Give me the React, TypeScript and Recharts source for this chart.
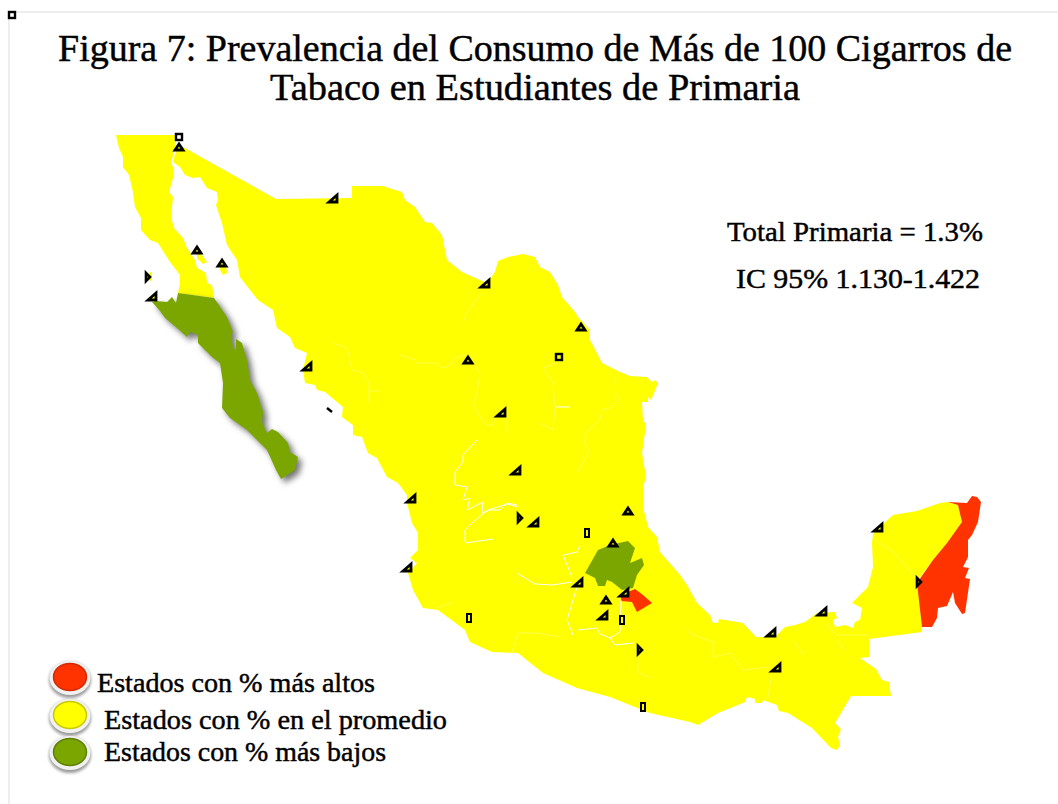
import React from 'react';
import { ScatterChart, Scatter, XAxis, YAxis } from 'recharts';

type Pt = [number, number];

const TITLE_LINES = ['Figura 7: Prevalencia del Consumo de Más de 100 Cigarros de', 'Tabaco en Estudiantes de Primaria'];
const TOTALS = ['Total Primaria = 1.3%', 'IC 95% 1.130-1.422'];
const LEGEND_LABELS = ['Estados con % más altos', 'Estados con % en el promedio', 'Estados con % más bajos'];

const YELLOW = '#ffff00';
const GREEN = '#7ba600';
const RED = '#ff3300';

// outlines are in map units
const bajaNorte: Pt[] = [[116,135],[176,135],[175,148],[171,163],[173,167],[173,178],[169,192],[173,197],[171,217],[174,228],[183,238],[187,248],[195,260],[197,268],[206,273],[207,283],[212,285],[214,298],[178,293],[180,283],[180,275],[170,262],[158,243],[150,240],[141,230],[141,218],[135,207],[133,192],[129,175],[123,167],[123,157],[119,148]];
const bajaSur: Pt[] = [[178,293],[214,298],[227,317],[233,332],[231,333],[233,348],[236,350],[236,339],[242,343],[247,360],[250,380],[257,393],[263,412],[262,422],[267,433],[272,429],[278,432],[288,443],[290,452],[298,457],[295,470],[281,479],[276,470],[267,450],[247,430],[230,418],[222,408],[223,383],[220,363],[212,357],[198,343],[198,335],[190,332],[187,337],[177,328],[165,318],[160,311],[152,302],[157,301],[167,302],[172,297],[176,303]];
const islandA: Pt[] = [[197,253],[202,255],[207,262],[203,264],[197,258]];
const islandB: Pt[] = [[220,266],[226,266],[227,273],[223,275],[220,270]];
const islandC: Pt[] = [[150,272],[152,272],[152,281],[148,280]];
const mainland: Pt[] = [[177,148],[173,162],[180,167],[185,175],[193,178],[200,177],[207,188],[217,192],[218,200],[216,205],[222,223],[227,245],[237,260],[240,277],[250,290],[258,300],[273,310],[277,328],[290,337],[295,348],[307,353],[303,370],[305,383],[315,385],[317,390],[325,392],[343,407],[342,417],[353,425],[353,435],[362,437],[368,453],[377,458],[387,477],[398,483],[407,495],[407,503],[412,523],[418,533],[418,550],[410,558],[417,563],[408,573],[413,590],[423,608],[438,610],[465,630],[470,642],[492,652],[518,653],[543,673],[577,688],[610,697],[650,713],[690,722],[698,725],[718,713],[733,707],[745,702],[747,697],[755,699],[755,703],[762,703],[763,700],[777,705],[779,711],[788,713],[812,728],[831,748],[837,750],[840,745],[838,737],[841,729],[835,723],[851,696],[891,696],[889,682],[882,680],[876,669],[860,658],[869,657],[869,639],[922,632],[918,580],[933,560],[947,543],[962,522],[958,505],[948,502],[940,503],[917,511],[893,515],[880,527],[873,534],[872,543],[873,567],[868,587],[852,603],[862,608],[860,620],[855,622],[853,628],[845,625],[835,627],[833,620],[837,618],[835,612],[817,613],[805,622],[795,625],[785,627],[775,637],[756,637],[743,623],[719,619],[718,623],[713,623],[710,615],[697,603],[687,585],[680,575],[660,552],[657,537],[648,527],[643,507],[643,487],[646,477],[642,453],[646,425],[643,420],[642,402],[648,402],[648,397],[651,400],[658,383],[655,380],[652,382],[647,377],[630,376],[620,372],[602,363],[590,340],[589,329],[578,317],[575,312],[562,297],[558,285],[550,272],[540,267],[535,257],[523,254],[508,257],[498,261],[495,272],[487,283],[473,277],[462,272],[447,260],[442,235],[432,223],[425,222],[415,207],[405,200],[402,192],[392,189],[383,186],[352,186],[352,198],[276,199],[183,147]];
const hidalgo: Pt[] = [[585,573],[598,550],[610,545],[628,541],[635,548],[630,563],[642,558],[644,565],[637,575],[633,588],[622,590],[612,582],[607,580],[605,586],[598,586],[595,578]];
const tlaxcala: Pt[] = [[621,595],[635,589],[643,595],[652,603],[637,612],[632,602],[621,601]];
const quintanaRoo: Pt[] = [[948,502],[967,503],[972,496],[977,497],[981,502],[978,522],[972,535],[968,540],[968,557],[963,567],[969,568],[965,578],[970,579],[965,613],[962,614],[955,603],[953,592],[947,606],[938,608],[937,618],[932,627],[922,627],[917,583],[933,560],[947,543],[962,522],[958,505]];

// borders that still read clearly in the picture
const strongBorders: Pt[][] = [
  [[477,440],[463,455],[463,462],[455,472],[455,485],[467,487],[463,500],[470,498],[467,510],[483,502],[482,513],[490,510],[500,510],[507,503],[517,505]],
  [[517,573],[535,584],[552,585],[572,582]],
  [[563,555],[572,577]],
  [[563,555],[577,552],[580,545]],
  [[465,542],[465,530],[473,522],[488,510],[507,504],[518,507]],
  [[465,543],[493,539]],
  [[577,587],[567,620],[573,635]],
  [[577,630],[597,628],[600,634],[610,638],[620,632],[621,600]],
  [[610,638],[615,645],[633,643]],
  [[555,407],[570,407]],
];
// barely visible ones
const faintBorders: Pt[][] = [
  [[482,293],[467,312],[463,323]],
  [[333,343],[347,348],[352,370],[363,373],[369,383],[369,403]],
  [[369,391],[380,391]],
  [[400,355],[415,360],[417,363],[438,363],[442,368],[447,367],[457,357],[465,355]],
  [[470,360],[480,373],[477,393],[473,403],[480,417],[487,425],[493,425],[497,415]],
  [[507,417],[507,433]],
  [[563,360],[543,368],[553,383],[555,407]],
  [[555,408],[553,430],[540,423]],
  [[615,378],[616,397]],
  [[620,398],[610,408],[602,410],[600,420],[585,433],[585,445],[590,450],[577,473]],
  [[438,608],[453,602]],
  [[633,643],[638,657],[638,672],[650,678]],
  [[560,637],[537,633],[518,633],[512,652]],
  [[685,627],[693,635],[713,642],[713,657],[730,653],[743,670],[770,667]],
  [[795,642],[803,655]],
  [[825,623],[837,635],[867,635]],
  [[837,640],[845,650]],
  [[875,540],[893,552],[917,578]],
  [[772,672],[768,697]],
];

const cornerMarks: Pt[] = [[333,199],[152,297],[307,367],[485,284],[501,413],[516,471],[411,499],[534,523],[407,568],[578,583],[624,593],[603,616],[878,528],[822,612],[771,633],[776,668]];
const apexMarks: Pt[] = [[179,147],[197,250],[222,263],[581,327],[468,360],[606,600],[628,511],[613,543]];
const sideMarks: Pt[] = [[148,277],[520,518],[919,582],[640,650]];
const narrowMarks: Pt[] = [[587,533],[643,707],[622,620],[469,618]];
const boxMarks: Pt[] = [[179,137],[559,357],[12,15]];
const slashMark: Pt[] = [[327,408],[332,412]];

const frameTop: Pt[] = [[9,12],[1058,12]];
const frameLeft: Pt[] = [[9,12],[9,804]];

const legendDiscs: Pt[] = [[70,678],[70,716],[70,753]];
const legendColors = [RED, YELLOW, GREEN];
const legendEdges = ['#d42a00', '#c9c900', '#5f8000'];

const toRows = (pts: Pt[]) => pts.map(([x, y]) => ({ x, y }));
const noDot = () => <g />;

function fillShape(color: string, shadow = false) {
  return (p: any) => (
    <polygon
      points={p.points.map((q: any) => `${q.x},${q.y}`).join(' ')}
      fill={color}
      stroke="none"
      style={shadow ? { filter: 'drop-shadow(4px 4px 3px rgba(0,0,0,0.55))' } : undefined}
    />
  );
}

function region(name: string, pts: Pt[], color: string, shadow = false) {
  return <Scatter key={name} data={toRows(pts)} line={fillShape(color, shadow)} shape={noDot} isAnimationActive={false} />;
}

const corner = (p: any) => <path d={`M${p.cx + 4} ${p.cy - 4}V${p.cy + 3}H${p.cx - 4}Z`} fill={YELLOW} stroke="#000" strokeWidth={2.8} />;
const apex = (p: any) => <path d={`M${p.cx} ${p.cy - 3}L${p.cx + 4} ${p.cy + 3}H${p.cx - 4}Z`} fill={YELLOW} stroke="#000" strokeWidth={2.8} />;
const side = (p: any) => <path d={`M${p.cx - 2} ${p.cy - 4}L${p.cx + 2} ${p.cy}L${p.cx - 2} ${p.cy + 4}Z`} fill={YELLOW} stroke="#000" strokeWidth={2.6} />;
const narrow = (p: any) => <rect x={p.cx - 2} y={p.cy - 4} width={4} height={8} fill={YELLOW} stroke="#000" strokeWidth={2} />;
const box = (p: any) => <rect x={p.cx - 3} y={p.cy - 3} width={6} height={6} fill="none" stroke="#000" strokeWidth={2.4} />;

const disc = (p: any) => (
  <g>
    <ellipse cx={p.cx} cy={p.cy + 2} rx={21} ry={18} fill="#9a9a9a" style={{ filter: 'blur(1.5px)' }} />
    <ellipse cx={p.cx} cy={p.cy} rx={20.5} ry={17} fill="#f1f1f1" />
    <ellipse cx={p.cx} cy={p.cy - 1} rx={16.5} ry={13.5} fill={legendColors[p.index]} stroke={legendEdges[p.index]} strokeWidth={1.5} />
  </g>
);

const serif = '"Liberation Serif", serif';

export default function App() {
  return (
    <div style={{ position: 'fixed', left: 0, top: 0, width: 1058, height: 804, background: '#fff' }}>
      <ScatterChart width={1058} height={804} margin={{ top: 0, right: 0, bottom: 0, left: 0 }}>
        <XAxis type="number" dataKey="x" domain={[0, 1058]} hide />
        <YAxis type="number" dataKey="y" domain={[0, 804]} reversed hide />
        <Scatter data={toRows(frameTop)} line={{ stroke: '#eeeeee', strokeWidth: 2 }} shape={noDot} isAnimationActive={false} />
        <Scatter data={toRows(frameLeft)} line={{ stroke: '#eeeeee', strokeWidth: 2 }} shape={noDot} isAnimationActive={false} />
        {region('bajaNorte', bajaNorte, YELLOW)}
        {region('mainland', mainland, YELLOW)}
        {region('islandA', islandA, YELLOW)}
        {region('islandB', islandB, YELLOW)}
        {region('islandC', islandC, YELLOW)}
        {region('bajaSur', bajaSur, GREEN, true)}
        {region('hidalgo', hidalgo, GREEN)}
        {region('tlaxcala', tlaxcala, RED)}
        {region('quintanaRoo', quintanaRoo, RED)}
        {faintBorders.map((b, i) => (
          <Scatter key={`f${i}`} data={toRows(b)} line={{ stroke: '#ffffff', strokeWidth: 0.7, strokeOpacity: 0.45 }} shape={noDot} isAnimationActive={false} />
        ))}
        {strongBorders.map((b, i) => (
          <Scatter key={`s${i}`} data={toRows(b)} line={{ stroke: '#ffffff', strokeWidth: 1 }} shape={noDot} isAnimationActive={false} />
        ))}
        <Scatter data={toRows(slashMark)} line={{ stroke: '#000', strokeWidth: 2.5 }} shape={noDot} isAnimationActive={false} />
        <Scatter data={toRows(cornerMarks)} shape={corner} isAnimationActive={false} />
        <Scatter data={toRows(apexMarks)} shape={apex} isAnimationActive={false} />
        <Scatter data={toRows(sideMarks)} shape={side} isAnimationActive={false} />
        <Scatter data={toRows(narrowMarks)} shape={narrow} isAnimationActive={false} />
        <Scatter data={toRows(boxMarks)} shape={box} isAnimationActive={false} />
        <Scatter data={toRows(legendDiscs)} shape={disc} isAnimationActive={false} />
      </ScatterChart>
      <svg width={1058} height={804} style={{ position: 'absolute', left: 0, top: 0, pointerEvents: 'none' }}>
        <g fontFamily={serif} fill="#000" stroke="#000" strokeWidth={0.45}>
          <text x={58} y={61} fontSize={38} textLength={954} lengthAdjust="spacingAndGlyphs">{TITLE_LINES[0]}</text>
          <text x={270} y={100} fontSize={38} textLength={530} lengthAdjust="spacingAndGlyphs">{TITLE_LINES[1]}</text>
          <text x={727} y={241} fontSize={27} textLength={256} lengthAdjust="spacingAndGlyphs">{TOTALS[0]}</text>
          <text x={736} y={288} fontSize={27} textLength={244} lengthAdjust="spacingAndGlyphs">{TOTALS[1]}</text>
          <text x={97} y={692} fontSize={27} textLength={278} lengthAdjust="spacingAndGlyphs">{LEGEND_LABELS[0]}</text>
          <text x={104} y={729} fontSize={27} textLength={343} lengthAdjust="spacingAndGlyphs">{LEGEND_LABELS[1]}</text>
          <text x={104} y={761} fontSize={27} textLength={282} lengthAdjust="spacingAndGlyphs">{LEGEND_LABELS[2]}</text>
        </g>
      </svg>
    </div>
  );
}
